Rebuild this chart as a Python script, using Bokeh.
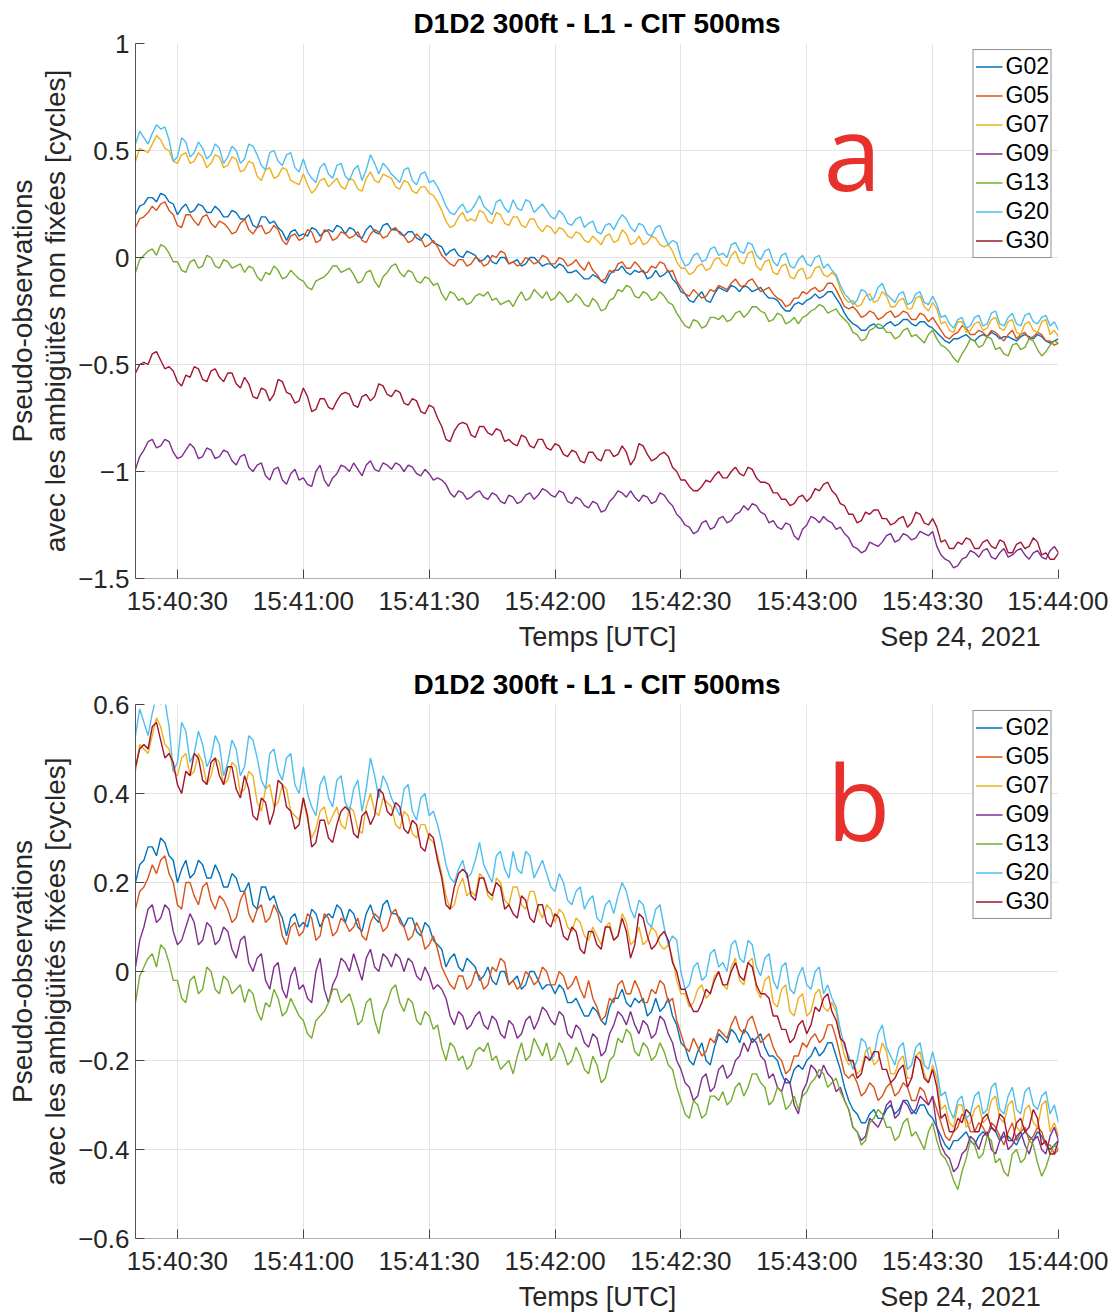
import pandas as pd
from bokeh.plotting import figure
from bokeh.layouts import column
from bokeh.models import (Range1d, FixedTicker, DatetimeTickFormatter, Label, LinearAxis)
from bokeh.embed import file_html
from bokeh.resources import INLINE

# ---------------- data (cycles, fixed ambiguities, one sample every 1 s) ----------------
start_time = "2021-09-24 15:40:20"
end_time = "2021-09-24 15:44:00"
sample_step_s = 1

sats = ["G02", "G05", "G07", "G09", "G13", "G20", "G30"]
colors = ["#0072BD", "#D95319", "#EDB120", "#7E2F8E", "#77AC30", "#4DBEEE", "#A2142F"]

G02 = [0.20, 0.24, 0.25, 0.28, 0.28, 0.26, 0.30, 0.29, 0.26, 0.25, 0.20, 0.23, 0.25, 0.21, 0.22, 0.25, 0.24, 0.21, 0.21, 0.24,
       0.22, 0.19, 0.19, 0.22, 0.21, 0.18, 0.18, 0.20, 0.15, 0.14, 0.19, 0.19, 0.16, 0.17, 0.14, 0.12, 0.08, 0.12, 0.13, 0.10,
       0.11, 0.10, 0.14, 0.13, 0.10, 0.12, 0.13, 0.12, 0.15, 0.14, 0.11, 0.14, 0.13, 0.10, 0.09, 0.13, 0.15, 0.12, 0.11, 0.15,
       0.16, 0.13, 0.13, 0.12, 0.10, 0.12, 0.12, 0.09, 0.08, 0.11, 0.10, 0.07, 0.06, 0.05, 0.01, 0.03, 0.04, 0.01, 0.00, 0.03,
       0.02, 0.01, -0.02, -0.01, 0.01, -0.02, -0.03, 0.00, 0.00, -0.03, -0.02, -0.01, -0.04, -0.03, 0.00, 0.00, -0.02, -0.04, -0.03, -0.03,
       -0.05, -0.03, -0.04, -0.07, -0.07, -0.06, -0.08, -0.10, -0.10, -0.08, -0.09, -0.11, -0.12, -0.08, -0.06, -0.06, -0.04, -0.07, -0.08, -0.06,
       -0.07, -0.06, -0.10, -0.09, -0.06, -0.09, -0.08, -0.06, -0.10, -0.12, -0.16, -0.17, -0.20, -0.21, -0.18, -0.16, -0.20, -0.21, -0.17, -0.14,
       -0.15, -0.16, -0.13, -0.14, -0.16, -0.13, -0.14, -0.16, -0.15, -0.14, -0.17, -0.19, -0.19, -0.20, -0.23, -0.25, -0.25, -0.22, -0.21, -0.22,
       -0.20, -0.19, -0.17, -0.19, -0.18, -0.16, -0.16, -0.19, -0.22, -0.26, -0.29, -0.31, -0.32, -0.34, -0.34, -0.32, -0.31, -0.33, -0.33, -0.31,
       -0.30, -0.32, -0.31, -0.29, -0.29, -0.31, -0.32, -0.30, -0.30, -0.32, -0.33, -0.35, -0.37, -0.39, -0.40, -0.38, -0.38, -0.37, -0.36, -0.38,
       -0.39, -0.37, -0.36, -0.37, -0.35, -0.36, -0.38, -0.37, -0.37, -0.38, -0.39, -0.37, -0.36, -0.37, -0.38, -0.36, -0.37, -0.39, -0.40, -0.39,
       -0.38]
G05 = [0.14, 0.18, 0.19, 0.21, 0.24, 0.22, 0.25, 0.26, 0.22, 0.20, 0.15, 0.14, 0.20, 0.20, 0.17, 0.15, 0.19, 0.20, 0.16, 0.14,
       0.17, 0.16, 0.14, 0.11, 0.12, 0.16, 0.18, 0.13, 0.11, 0.14, 0.15, 0.11, 0.12, 0.15, 0.13, 0.08, 0.06, 0.10, 0.11, 0.08,
       0.09, 0.13, 0.12, 0.07, 0.08, 0.13, 0.12, 0.08, 0.09, 0.12, 0.11, 0.09, 0.10, 0.12, 0.08, 0.07, 0.11, 0.13, 0.12, 0.09,
       0.10, 0.13, 0.14, 0.11, 0.10, 0.07, 0.08, 0.11, 0.09, 0.05, 0.06, 0.08, 0.05, 0.01, -0.01, -0.03, -0.04, -0.01, -0.01, -0.04,
       -0.03, 0.00, -0.01, -0.04, -0.03, 0.01, 0.00, 0.03, 0.02, -0.03, -0.02, -0.04, -0.03, 0.00, -0.01, -0.03, -0.02, 0.01, 0.00, -0.03,
       -0.03, 0.00, -0.01, -0.04, -0.03, -0.01, -0.04, -0.06, -0.02, -0.06, -0.08, -0.11, -0.10, -0.06, -0.07, -0.03, -0.02, -0.05, -0.05, -0.02,
       -0.04, -0.07, -0.07, -0.04, -0.05, -0.02, -0.03, -0.07, -0.06, -0.11, -0.14, -0.17, -0.18, -0.15, -0.17, -0.19, -0.18, -0.15, -0.16, -0.13,
       -0.14, -0.15, -0.12, -0.10, -0.13, -0.14, -0.11, -0.10, -0.13, -0.16, -0.15, -0.14, -0.17, -0.19, -0.20, -0.23, -0.22, -0.19, -0.19, -0.16,
       -0.17, -0.15, -0.14, -0.16, -0.15, -0.12, -0.12, -0.15, -0.19, -0.23, -0.24, -0.23, -0.25, -0.28, -0.27, -0.25, -0.26, -0.29, -0.28, -0.26,
       -0.25, -0.28, -0.27, -0.25, -0.26, -0.29, -0.29, -0.26, -0.27, -0.30, -0.28, -0.31, -0.34, -0.37, -0.38, -0.36, -0.35, -0.32, -0.33, -0.36,
       -0.36, -0.34, -0.35, -0.37, -0.34, -0.35, -0.37, -0.39, -0.36, -0.34, -0.38, -0.36, -0.35, -0.38, -0.37, -0.35, -0.36, -0.39, -0.39, -0.41,
       -0.40]
G07 = [0.45, 0.51, 0.50, 0.49, 0.53, 0.57, 0.55, 0.51, 0.50, 0.45, 0.44, 0.48, 0.49, 0.44, 0.45, 0.49, 0.47, 0.42, 0.44, 0.48,
       0.47, 0.42, 0.43, 0.47, 0.46, 0.40, 0.41, 0.45, 0.44, 0.38, 0.36, 0.41, 0.42, 0.37, 0.38, 0.42, 0.41, 0.36, 0.35, 0.34,
       0.39, 0.34, 0.30, 0.32, 0.36, 0.37, 0.33, 0.35, 0.37, 0.33, 0.32, 0.37, 0.36, 0.32, 0.31, 0.37, 0.40, 0.36, 0.35, 0.39,
       0.38, 0.37, 0.33, 0.32, 0.36, 0.35, 0.31, 0.30, 0.33, 0.33, 0.30, 0.29, 0.26, 0.22, 0.17, 0.14, 0.15, 0.19, 0.21, 0.17,
       0.18, 0.17, 0.22, 0.21, 0.17, 0.16, 0.21, 0.20, 0.16, 0.15, 0.19, 0.19, 0.15, 0.14, 0.18, 0.18, 0.14, 0.12, 0.15, 0.14,
       0.11, 0.14, 0.13, 0.10, 0.09, 0.12, 0.11, 0.08, 0.07, 0.10, 0.08, 0.06, 0.10, 0.11, 0.07, 0.08, 0.13, 0.11, 0.06, 0.07,
       0.10, 0.06, 0.07, 0.10, 0.09, 0.06, 0.05, 0.06, 0.03, -0.02, -0.05, -0.05, -0.08, -0.07, -0.04, -0.03, -0.06, -0.05, -0.01, 0.00,
       -0.03, -0.04, 0.01, 0.03, -0.02, -0.03, 0.02, 0.03, -0.04, -0.06, -0.02, -0.01, -0.07, -0.08, -0.04, -0.03, -0.09, -0.10, -0.06, -0.05,
       -0.10, -0.09, -0.05, -0.04, -0.08, -0.09, -0.07, -0.09, -0.15, -0.19, -0.21, -0.20, -0.23, -0.22, -0.18, -0.17, -0.21, -0.20, -0.16, -0.18,
       -0.23, -0.23, -0.20, -0.19, -0.24, -0.24, -0.19, -0.18, -0.23, -0.25, -0.21, -0.24, -0.31, -0.30, -0.34, -0.35, -0.30, -0.30, -0.35, -0.34,
       -0.31, -0.30, -0.34, -0.33, -0.29, -0.28, -0.33, -0.34, -0.30, -0.29, -0.35, -0.36, -0.31, -0.30, -0.34, -0.35, -0.30, -0.29, -0.36, -0.34,
       -0.37]
G09 = [0.01, 0.07, 0.10, 0.14, 0.15, 0.11, 0.12, 0.15, 0.14, 0.09, 0.06, 0.07, 0.10, 0.13, 0.11, 0.06, 0.07, 0.11, 0.10, 0.06,
       0.07, 0.10, 0.09, 0.05, 0.03, 0.07, 0.08, 0.02, 0.00, 0.03, 0.04, -0.02, -0.04, 0.01, 0.02, -0.04, -0.06, -0.01, 0.01, -0.04,
       -0.03, -0.06, -0.07, 0.00, 0.03, -0.04, -0.07, -0.03, -0.01, 0.03, 0.02, 0.00, 0.04, 0.01, -0.02, 0.03, 0.05, 0.01, 0.00, 0.04,
       0.03, 0.01, 0.04, 0.03, 0.00, 0.03, 0.02, -0.01, -0.02, 0.01, -0.01, -0.04, -0.03, -0.04, -0.06, -0.10, -0.12, -0.09, -0.10, -0.13,
       -0.12, -0.10, -0.09, -0.12, -0.13, -0.10, -0.11, -0.14, -0.15, -0.11, -0.12, -0.15, -0.14, -0.11, -0.10, -0.13, -0.11, -0.08, -0.09, -0.11,
       -0.12, -0.09, -0.10, -0.14, -0.15, -0.12, -0.13, -0.16, -0.17, -0.14, -0.15, -0.19, -0.18, -0.14, -0.12, -0.09, -0.10, -0.12, -0.09, -0.12,
       -0.14, -0.11, -0.12, -0.15, -0.14, -0.10, -0.11, -0.14, -0.16, -0.20, -0.22, -0.25, -0.26, -0.29, -0.28, -0.24, -0.23, -0.27, -0.26, -0.22,
       -0.21, -0.24, -0.23, -0.20, -0.19, -0.16, -0.18, -0.15, -0.16, -0.19, -0.20, -0.24, -0.23, -0.26, -0.27, -0.24, -0.25, -0.30, -0.32, -0.27,
       -0.25, -0.21, -0.22, -0.24, -0.21, -0.23, -0.24, -0.27, -0.26, -0.29, -0.31, -0.35, -0.36, -0.38, -0.37, -0.33, -0.34, -0.35, -0.33, -0.30,
       -0.29, -0.33, -0.32, -0.29, -0.30, -0.32, -0.31, -0.28, -0.29, -0.30, -0.28, -0.35, -0.39, -0.41, -0.42, -0.45, -0.44, -0.41, -0.40, -0.37,
       -0.38, -0.40, -0.37, -0.36, -0.40, -0.41, -0.38, -0.36, -0.40, -0.39, -0.37, -0.36, -0.39, -0.41, -0.38, -0.37, -0.40, -0.41, -0.37, -0.35,
       -0.38]
G13 = [-0.07, -0.01, 0.01, 0.03, 0.04, 0.01, 0.06, 0.05, 0.02, -0.02, -0.02, -0.06, -0.07, -0.02, -0.01, -0.05, -0.04, 0.01, 0.00, -0.04,
       -0.05, -0.01, -0.02, -0.05, -0.04, -0.03, -0.07, -0.04, -0.05, -0.09, -0.11, -0.07, -0.08, -0.04, -0.06, -0.10, -0.09, -0.06, -0.08, -0.10,
       -0.11, -0.14, -0.15, -0.11, -0.10, -0.09, -0.07, -0.04, -0.04, -0.07, -0.06, -0.05, -0.08, -0.12, -0.11, -0.07, -0.06, -0.11, -0.14, -0.09,
       -0.07, -0.04, -0.03, -0.07, -0.09, -0.06, -0.07, -0.11, -0.12, -0.09, -0.10, -0.13, -0.12, -0.17, -0.20, -0.16, -0.17, -0.20, -0.19, -0.22,
       -0.21, -0.18, -0.17, -0.18, -0.16, -0.20, -0.19, -0.22, -0.21, -0.20, -0.23, -0.19, -0.16, -0.20, -0.19, -0.15, -0.17, -0.19, -0.16, -0.20,
       -0.19, -0.16, -0.18, -0.21, -0.20, -0.17, -0.19, -0.22, -0.23, -0.19, -0.21, -0.25, -0.24, -0.20, -0.19, -0.15, -0.16, -0.13, -0.14, -0.18,
       -0.19, -0.16, -0.17, -0.20, -0.19, -0.16, -0.18, -0.21, -0.22, -0.26, -0.29, -0.32, -0.33, -0.29, -0.30, -0.33, -0.32, -0.28, -0.28, -0.29,
       -0.27, -0.30, -0.29, -0.26, -0.25, -0.28, -0.26, -0.23, -0.23, -0.25, -0.26, -0.30, -0.29, -0.26, -0.27, -0.31, -0.30, -0.28, -0.31, -0.28,
       -0.27, -0.25, -0.24, -0.22, -0.23, -0.26, -0.25, -0.24, -0.27, -0.29, -0.31, -0.35, -0.36, -0.39, -0.38, -0.34, -0.33, -0.31, -0.32, -0.35,
       -0.35, -0.38, -0.37, -0.34, -0.33, -0.37, -0.36, -0.38, -0.40, -0.36, -0.34, -0.38, -0.41, -0.42, -0.44, -0.47, -0.49, -0.45, -0.42, -0.38,
       -0.39, -0.42, -0.41, -0.37, -0.38, -0.43, -0.42, -0.45, -0.46, -0.41, -0.40, -0.43, -0.42, -0.38, -0.39, -0.43, -0.46, -0.44, -0.41, -0.39,
       -0.40]
G20 = [0.53, 0.59, 0.56, 0.53, 0.58, 0.62, 0.60, 0.61, 0.55, 0.45, 0.47, 0.56, 0.54, 0.47, 0.49, 0.54, 0.51, 0.46, 0.48, 0.53,
       0.51, 0.44, 0.47, 0.52, 0.50, 0.44, 0.46, 0.53, 0.52, 0.48, 0.43, 0.41, 0.49, 0.50, 0.45, 0.43, 0.48, 0.49, 0.42, 0.40,
       0.46, 0.40, 0.37, 0.35, 0.42, 0.44, 0.39, 0.37, 0.43, 0.44, 0.38, 0.36, 0.41, 0.43, 0.36, 0.41, 0.48, 0.44, 0.39, 0.44,
       0.42, 0.39, 0.37, 0.35, 0.41, 0.42, 0.36, 0.34, 0.39, 0.40, 0.35, 0.36, 0.33, 0.29, 0.24, 0.21, 0.20, 0.23, 0.25, 0.21,
       0.22, 0.25, 0.29, 0.24, 0.22, 0.20, 0.26, 0.27, 0.23, 0.21, 0.27, 0.23, 0.22, 0.27, 0.26, 0.21, 0.23, 0.25, 0.22, 0.19,
       0.18, 0.22, 0.20, 0.16, 0.15, 0.18, 0.19, 0.14, 0.16, 0.17, 0.12, 0.11, 0.15, 0.16, 0.13, 0.17, 0.20, 0.18, 0.14, 0.12,
       0.16, 0.15, 0.11, 0.10, 0.14, 0.15, 0.10, 0.06, 0.08, 0.07, 0.00, -0.04, -0.03, 0.01, 0.02, -0.02, -0.01, 0.04, 0.05, 0.01,
       0.02, 0.00, 0.06, 0.07, 0.03, 0.02, 0.07, 0.06, 0.01, -0.01, 0.03, 0.04, -0.02, -0.04, 0.01, 0.02, -0.04, -0.05, -0.01, 0.01,
       -0.03, -0.04, 0.00, 0.01, -0.05, -0.03, -0.06, -0.08, -0.13, -0.17, -0.19, -0.22, -0.20, -0.15, -0.16, -0.20, -0.19, -0.14, -0.12, -0.17,
       -0.19, -0.21, -0.17, -0.16, -0.22, -0.21, -0.17, -0.16, -0.21, -0.22, -0.18, -0.22, -0.28, -0.27, -0.31, -0.33, -0.29, -0.28, -0.33, -0.32,
       -0.28, -0.27, -0.32, -0.31, -0.26, -0.25, -0.31, -0.32, -0.28, -0.26, -0.31, -0.32, -0.27, -0.26, -0.30, -0.31, -0.28, -0.27, -0.32, -0.30,
       -0.34]
G30 = [0.46, 0.50, 0.51, 0.50, 0.55, 0.56, 0.52, 0.48, 0.49, 0.47, 0.42, 0.40, 0.45, 0.44, 0.49, 0.48, 0.43, 0.42, 0.47, 0.48,
       0.44, 0.42, 0.46, 0.46, 0.41, 0.39, 0.44, 0.41, 0.35, 0.34, 0.39, 0.38, 0.33, 0.36, 0.43, 0.42, 0.37, 0.36, 0.32, 0.33,
       0.39, 0.35, 0.28, 0.29, 0.34, 0.34, 0.30, 0.29, 0.33, 0.36, 0.37, 0.36, 0.31, 0.30, 0.35, 0.36, 0.33, 0.35, 0.41, 0.40,
       0.36, 0.35, 0.38, 0.37, 0.32, 0.31, 0.34, 0.33, 0.28, 0.27, 0.31, 0.30, 0.25, 0.21, 0.15, 0.14, 0.19, 0.22, 0.23, 0.22,
       0.17, 0.16, 0.21, 0.21, 0.18, 0.17, 0.20, 0.19, 0.14, 0.15, 0.13, 0.12, 0.17, 0.16, 0.12, 0.11, 0.15, 0.15, 0.11, 0.10,
       0.13, 0.12, 0.08, 0.07, 0.10, 0.09, 0.05, 0.04, 0.09, 0.09, 0.06, 0.05, 0.10, 0.10, 0.07, 0.08, 0.12, 0.09, 0.03, 0.06,
       0.13, 0.12, 0.08, 0.05, 0.06, 0.08, 0.09, 0.07, 0.02, 0.00, -0.04, -0.04, -0.07, -0.09, -0.09, -0.07, -0.04, -0.05, -0.02, 0.00,
       -0.03, -0.03, 0.00, 0.02, -0.01, -0.02, 0.02, 0.01, -0.03, -0.05, -0.05, -0.06, -0.10, -0.10, -0.13, -0.13, -0.16, -0.15, -0.12, -0.11,
       -0.14, -0.12, -0.08, -0.09, -0.06, -0.05, -0.09, -0.11, -0.15, -0.16, -0.20, -0.20, -0.24, -0.23, -0.19, -0.20, -0.18, -0.18, -0.22, -0.22,
       -0.25, -0.24, -0.22, -0.21, -0.26, -0.24, -0.19, -0.20, -0.24, -0.25, -0.22, -0.26, -0.33, -0.32, -0.36, -0.36, -0.33, -0.34, -0.31, -0.32,
       -0.36, -0.36, -0.33, -0.32, -0.35, -0.36, -0.32, -0.33, -0.38, -0.38, -0.34, -0.33, -0.36, -0.35, -0.31, -0.33, -0.39, -0.38, -0.41, -0.41,
       -0.38]

# integer ambiguity offsets (cycles) present when ambiguities are NOT fixed
float_amb_offset = [0, 0, 0, -1, 0, 0, -1]

x_tick_labels = ["15:40:30", "15:41:00", "15:41:30", "15:42:00",
                 "15:42:30", "15:43:00", "15:43:30", "15:44:00"]
ya_ticks = [1, 0.5, 0, -0.5, -1, -1.5]
ya_tick_labels = ["1", "0.5", "0", "\u22120.5", "\u22121", "\u22121.5"]
yb_ticks = [0.6, 0.4, 0.2, 0, -0.2, -0.4, -0.6]
yb_tick_labels = ["0.6", "0.4", "0.2", "0", "\u22120.2", "\u22120.4", "\u22120.6"]

title_text = "D1D2 300ft - L1 - CIT 500ms"
xlabel_text = "Temps [UTC]"
date_text = "Sep 24, 2021"
ylabel_line1 = "Pseudo-observations"
ylabel_a_line2 = "avec les ambigüités non fixées [cycles]"
ylabel_b_line2 = "avec les ambigüités fixées [cycles]"

series_fixed = [G02, G05, G07, G09, G13, G20, G30]

# ---------------- helpers ----------------
def ms(ts):
    return pd.Timestamp(ts).value / 1e6

t0 = ms(start_time)
t1 = ms(end_time)
date_part = start_time.split(" ")[0]
xt_ms = [ms(date_part + " " + s) for s in x_tick_labels]

FONT = "Liberation Sans"
TXT = "#262626"

FRAME_LEFT = 135
FRAME_W = 923
PX_PER_MS = FRAME_W / (t1 - t0)


def make_fig(y0, y1, yticks, ylabels, series, top_border, frame_h, fig_h, ylab2,
             tag, tag_xy_fig):
    bottom_border = fig_h - top_border - frame_h
    p = figure(x_axis_type="datetime", output_backend="svg", toolbar_location=None,
               frame_width=FRAME_W, frame_height=frame_h,
               min_border_left=FRAME_LEFT, min_border_right=50,
               min_border_top=top_border, min_border_bottom=bottom_border,
               x_range=Range1d(t0, t1), y_range=Range1d(y0, y1))
    p.outline_line_color = None
    p.background_fill_color = "white"
    p.border_fill_color = "white"

    for name, col, ys in zip(sats, colors, series):
        xs = [t0 + i * sample_step_s * 1000 for i in range(len(ys))]
        p.line(xs, ys, line_color=col, line_width=1.4, legend_label=name)

    # title
    p.title.text = title_text
    p.title.align = "center"
    p.title.text_font = FONT
    p.title.text_font_size = "28px"
    p.title.text_font_style = "bold"
    p.title.text_color = "black"
    p.title.standoff = 9

    xt = FixedTicker(ticks=xt_ms)
    p.xaxis.ticker = xt
    p.xgrid.ticker = xt
    fmt = "%H:%M:%S"
    p.xaxis.formatter = DatetimeTickFormatter(seconds=fmt, minsec=fmt, minutes=fmt,
                                              hourmin=fmt, hours=fmt)
    yt = FixedTicker(ticks=yticks)
    p.yaxis.ticker = yt
    p.ygrid.ticker = yt
    p.yaxis.major_label_overrides = {float(k): v for k, v in zip(yticks, ylabels)}

    for ax in (p.xaxis[0], p.yaxis[0]):
        ax.major_label_text_font = FONT
        ax.major_label_text_font_size = "26px"
        ax.major_label_text_color = TXT
        ax.major_tick_in = 9
        ax.major_tick_out = 0
        ax.major_tick_line_color = "#444444"
        ax.minor_tick_line_color = None
    p.xaxis.axis_line_color = "#B0B0B0"
    p.yaxis.axis_line_color = "#555555"
    p.xaxis.major_label_standoff = 7
    p.yaxis.major_label_standoff = 6

    # y label, line 2 on the main axis
    p.yaxis.axis_label = ylab2
    p.yaxis.axis_label_text_font = FONT
    p.yaxis.axis_label_text_font_size = "28px"
    p.yaxis.axis_label_text_font_style = "normal"
    p.yaxis.axis_label_text_color = TXT
    p.yaxis.axis_label_standoff = 4

    # y label, line 1 on an outer bare axis
    ax1 = LinearAxis(ticker=FixedTicker(ticks=[]), axis_line_color=None,
                     major_tick_line_color=None, minor_tick_line_color=None,
                     major_label_text_font_size="0px", major_label_standoff=0,
                     axis_label=ylabel_line1, axis_label_standoff=0,
                     axis_label_text_font=FONT, axis_label_text_font_size="28px",
                     axis_label_text_font_style="normal", axis_label_text_color=TXT)
    p.add_layout(ax1, "left")

    # x label and date, as labels of an outer bare axis
    xl_pos = float(round(t0 + (597 - FRAME_LEFT) / PX_PER_MS))
    dt_pos = float(round(t0 + (960 - FRAME_LEFT) / PX_PER_MS))
    ax2 = LinearAxis(ticker=FixedTicker(ticks=[xl_pos, dt_pos]),
                     major_label_overrides={xl_pos: xlabel_text, dt_pos: date_text},
                     axis_line_color=None, major_tick_line_color=None,
                     minor_tick_line_color=None, major_label_standoff=-3,
                     major_label_text_font=FONT, major_label_text_font_size="27px",
                     major_label_text_color=TXT)
    p.add_layout(ax2, "below")

    p.xgrid.grid_line_color = "#E4E4E4"
    p.ygrid.grid_line_color = "#E4E4E4"

    lg = p.legend[0]
    lg.location = "top_right"
    lg.margin = 6
    lg.padding = 2
    lg.spacing = 0
    lg.label_height = 29
    lg.glyph_height = 29
    lg.glyph_width = 27
    lg.label_standoff = 3
    lg.label_text_font = FONT
    lg.label_text_font_size = "23px"
    lg.label_text_color = "black"
    lg.border_line_color = "#262626"
    lg.border_line_width = 1
    lg.background_fill_alpha = 1.0

    # panel tag inside the frame
    k = frame_h / (y1 - y0)
    tx = t0 + (tag_xy_fig[0] - FRAME_LEFT) / PX_PER_MS
    ty = y1 - (tag_xy_fig[1] - top_border) / k
    p.add_layout(Label(x=tx, y=ty, text=tag, text_font="Open Sans",
                       text_font_size="104px", text_color="#E8302C",
                       text_align="center", text_baseline="middle"))
    return p


series_float = [[v + off for v in s] for s, off in zip(series_fixed, float_amb_offset)]

FIG_A_H = 660
pa = make_fig(-1.5, 1, ya_ticks, ya_tick_labels, series_float,
              top_border=43, frame_h=535, fig_h=FIG_A_H,
              ylab2=ylabel_a_line2, tag="a", tag_xy_fig=(852, 150))
pb = make_fig(-0.6, 0.6, yb_ticks, yb_tick_labels, series_fixed,
              top_border=704 - FIG_A_H, frame_h=534, fig_h=652,
              ylab2=ylabel_b_line2, tag="b", tag_xy_fig=(858, 800 - FIG_A_H))

layout = column(pa, pb, spacing=0)
open("out.html", "w").write(file_html(layout, INLINE))
